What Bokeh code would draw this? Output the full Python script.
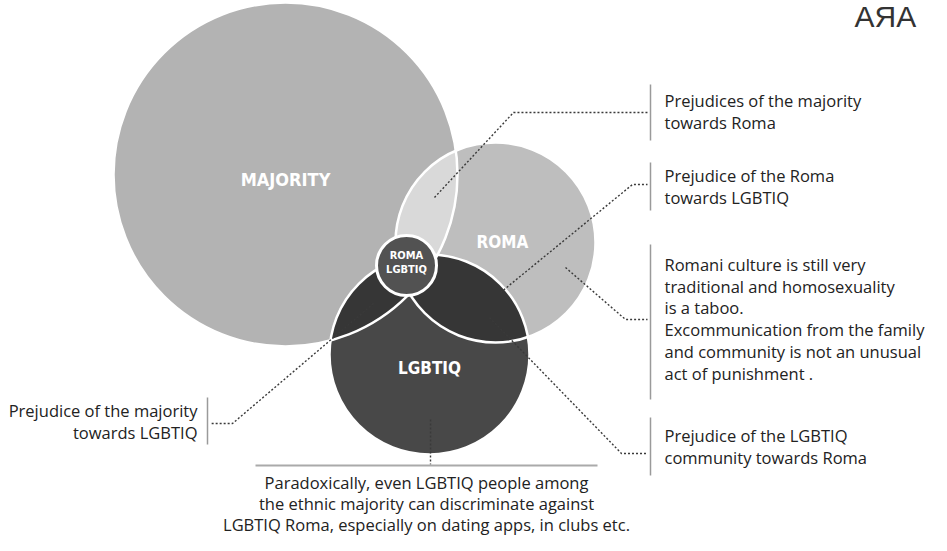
import numpy as np
from bokeh.plotting import figure
from bokeh.models import Range1d
from bokeh.core.properties import value
from bokeh.embed import file_html
from bokeh.resources import INLINE

# ---- sets of the diagram (centre x, centre y, radius in picture units) ----
set_names = ["MAJORITY", "ROMA", "LGBTIQ"]
set_cx = [293, 503, 437]
set_cy = [182, 250, 362]
set_r = [172, 100, 100]
set_fill = ["#b3b3b3", "#bebebe", "#484848"]
set_label_x = [293, 510, 437]
set_label_y = [187, 249, 375]
set_label_size = ["18px", "17px", "17px"]

overlap_pairs = [(0, 1), (0, 2), (1, 2)]
overlap_fill = ["#d9d9d9", "#363636", "#363636"]

core_lines = ["ROMA", "LGBTIQ"]
core_cx, core_cy, core_r = 414, 273, 30
core_line_y = [263, 277]

# ---- annotations ----
ann_lines = [
    ["Prejudices of the majority", "towards Roma"],
    ["Prejudice of the Roma", "towards LGBTIQ"],
    ["Romani culture is still very", "traditional and homosexuality", "is a taboo.",
     "Excommunication from the family", "and community is not an unusual",
     "act of punishment ."],
    ["Prejudice of the LGBTIQ", "community towards Roma"],
]
ann_first_y = [108, 183, 272, 443]
ann_bar_top = [92, 170, 252, 425]
ann_bar_bottom = [148, 218, 407, 483]
ann_x = 672
ann_bar_x = 658

left_lines = ["Prejudice of the majority", "towards LGBTIQ"]
left_first_y = 418
left_bar = (215, 405, 452)

bottom_lines = ["Paradoxically, even LGBTIQ people among",
                "the ethnic majority can discriminate against",
                "LGBTIQ Roma, especially on dating apps, in clubs etc."]
bottom_first_y = 490
bottom_rule = (263, 605, 473)

leader_x = [[442, 521, 655], [508, 640, 655], [573, 633, 655],
            [497, 629, 655], [381, 240, 218], [438, 438]]
leader_y = [[205, 120, 120], [300, 192, 192], [275, 327, 327],
            [325, 461, 461], [311, 431, 431], [427, 472]]

logo_text = "AЯA"

LINE_H = 21.7
ANN_SIZE = "16.5px"

W, H = 931, 535
p = figure(width=W, height=H, output_backend="svg", toolbar_location=None,
           x_range=Range1d(8, 8 + W), y_range=Range1d(8 + H, 8),
           x_axis_type=None, y_axis_type=None, min_border=0,
           outline_line_color=None, background_fill_color="white")
p.grid.visible = False


def lens(i, j, n=720):
    t = np.linspace(0, 2 * np.pi, n, endpoint=False)
    pts = []
    for a, b in ((i, j), (j, i)):
        x = set_cx[a] + set_r[a] * np.cos(t)
        y = set_cy[a] + set_r[a] * np.sin(t)
        inside = (x - set_cx[b]) ** 2 + (y - set_cy[b]) ** 2 <= set_r[b] ** 2
        pts.append(np.c_[x[inside], y[inside]])
    pts = np.vstack(pts)
    c = pts.mean(axis=0)
    order = np.argsort(np.arctan2(pts[:, 1] - c[1], pts[:, 0] - c[0]))
    return pts[order, 0], pts[order, 1]


# fills
for k in (0, 1):
    p.circle(x=[set_cx[k]], y=[set_cy[k]], radius=set_r[k],
             fill_color=set_fill[k], line_color=None)
lx, ly = lens(*overlap_pairs[0])
p.patch(lx, ly, fill_color=overlap_fill[0], line_color=None)
p.circle(x=[set_cx[2]], y=[set_cy[2]], radius=set_r[2],
         fill_color=set_fill[2], line_color=None)
for (i, j), col in zip(overlap_pairs[1:], overlap_fill[1:]):
    lx, ly = lens(i, j)
    p.patch(lx, ly, fill_color=col, line_color=None)

# white outlines
p.circle(x=set_cx, y=set_cy, radius=set_r, fill_color=None,
         line_color="white", line_width=2.5)

# leaders (under central circle)
for xs, ys in zip(leader_x, leader_y):
    p.line(xs, ys, line_color="#3a3a3a", line_width=1.4, line_dash="2 2")

# core circle
p.circle(x=[core_cx], y=[core_cy], radius=core_r, fill_color="#525252",
         line_color="white", line_width=3)

BOLD = value("'Liberation Sans Narrow', 'DejaVu Sans Condensed', 'Roboto'")
for lx_, ly_, name, size in zip(set_label_x, set_label_y, set_names, set_label_size):
    p.text(x=[lx_], y=[ly_], text=[name], text_font=BOLD,
           text_font_style="bold", text_font_size=size, text_color="white",
           text_align="center", text_baseline="middle")
p.text(x=[core_cx] * 2, y=core_line_y, text=core_lines, text_font=BOLD,
       text_font_style="bold", text_font_size="11px", text_color="white",
       text_align="center", text_baseline="middle")

FONT = value("Open Sans")
# right annotations
for lines, y0, bt, bb in zip(ann_lines, ann_first_y, ann_bar_top, ann_bar_bottom):
    ys = [y0 + LINE_H * i for i in range(len(lines))]
    p.text(x=[ann_x] * len(lines), y=ys, text=lines, text_font=FONT,
           text_font_size=ANN_SIZE, text_color="#222222", text_align="left",
           text_baseline="middle")
    p.line([ann_bar_x, ann_bar_x], [bt, bb], line_color="#9a9a9a", line_width=1.5)

# left annotation
ys = [left_first_y + LINE_H * i for i in range(len(left_lines))]
p.text(x=[205] * len(left_lines), y=ys, text=left_lines, text_font=FONT,
       text_font_size=ANN_SIZE, text_color="#222222", text_align="right",
       text_baseline="middle")
p.line([left_bar[0]] * 2, [left_bar[1], left_bar[2]], line_color="#9a9a9a", line_width=1.5)

# bottom annotation
ys = [bottom_first_y + 21 * i for i in range(len(bottom_lines))]
p.text(x=[434] * len(bottom_lines), y=ys, text=bottom_lines, text_font=FONT,
       text_font_size=ANN_SIZE, text_color="#222222", text_align="center",
       text_baseline="middle")
p.line([bottom_rule[0], bottom_rule[1]], [bottom_rule[2]] * 2,
       line_color="#aaaaaa", line_width=2)

# logo
p.text(x=[862], y=[24], text=[logo_text], text_font=value("Liberation Sans"),
       text_font_size="30px", text_color="#333333", text_align="left",
       text_baseline="middle")

open("out.html", "w").write(file_html(p, INLINE))
